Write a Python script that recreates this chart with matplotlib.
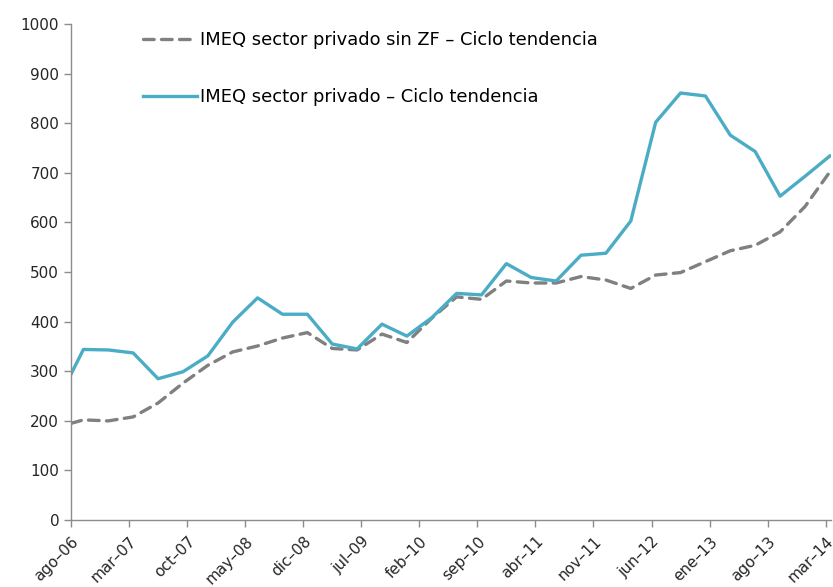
import numpy as np
import matplotlib
matplotlib.use("Agg")
import matplotlib.pyplot as plt

# months since ago-06 (quarterly points, first one at the start)
months = [0, 1.5, 4.5, 7.5, 10.5, 13.5, 16.5, 19.5, 22.5, 25.5, 28.5, 31.5,
          34.5, 37.5, 40.5, 43.5, 46.5, 49.5, 52.5, 55.5, 58.5, 61.5, 64.5,
          67.5, 70.5, 73.5, 76.5, 79.5, 82.5, 85.5, 88.5, 91.5]

sin_zf = [195, 202, 200, 208, 236, 276, 312, 339, 351, 367, 378, 346,
          343, 375, 358, 407, 450, 445, 482, 478, 478, 491, 484, 467,
          494, 499, 521, 543, 554, 581, 632, 702]

privado = [294, 344, 343, 337, 285, 299, 331, 399, 448, 415, 415, 355,
           345, 395, 371, 408, 457, 454, 517, 489, 482, 534, 538, 603,
           802, 861, 855, 776, 743, 653, 693, 734]

tick_pos = [0, 7, 14, 21, 28, 35, 42, 49, 56, 63, 70, 77, 84, 91]
tick_labels = ['ago–06', 'mar–07', 'oct–07', 'may–08', 'dic–08', 'jul–09',
               'feb–10', 'sep–10', 'abr–11', 'nov–11', 'jun–12', 'ene–13',
               'ago–13', 'mar–14']

plt.rcParams['font.family'] = ['DejaVu Sans']

fig = plt.figure(figsize=(8.33, 5.87), dpi=100)
ax = fig.add_axes([0.0852, 0.114, 0.912, 0.845])

ax.plot(months, sin_zf, color='#808080', lw=2.4, ls=(0, (3.2, 2.2)),
        dash_capstyle='round', label='IMEQ sector privado sin ZF – Ciclo tendencia')
ax.plot(months, privado, color='#4BACC6', lw=2.4,
        label='IMEQ sector privado – Ciclo tendencia')

ax.set_xlim(0, 91.6)
ax.set_ylim(0, 1000)
ax.set_yticks(range(0, 1001, 100))
ax.set_xticks(tick_pos)
ax.set_xticklabels(tick_labels, rotation=45, ha='right', va='top',
                   rotation_mode='anchor')

for s in ['top', 'right']:
    ax.spines[s].set_visible(False)
for s in ['left', 'bottom']:
    ax.spines[s].set_color('#8c8c8c')
    ax.spines[s].set_linewidth(1)
ax.tick_params(axis='both', colors='#8c8c8c', labelcolor='#262626',
               labelsize=11, length=5, width=1, direction='out')
ax.tick_params(axis='x', pad=5)

ax.legend(loc='upper left', bbox_to_anchor=(0.0948, 0.986), frameon=False,
          fontsize=12.9, handlelength=3.0, handletextpad=0.2,
          labelspacing=2.2, borderaxespad=0, borderpad=0)

fig.savefig('out.png', dpi=100)
